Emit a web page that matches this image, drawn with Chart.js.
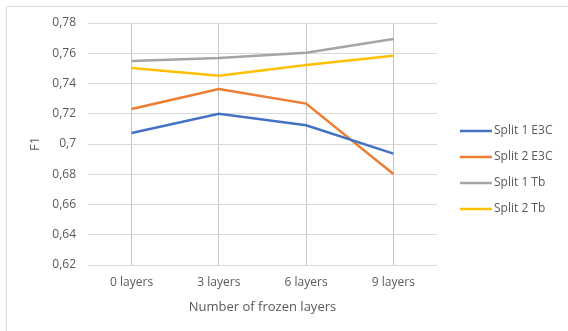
<!DOCTYPE html>
<html>
<head>
<meta charset="utf-8">
<script src="https://cdn.jsdelivr.net/npm/chart.js@4"></script>
<style>
  html, body { margin: 0; padding: 0; background: #ffffff; }
  #wrap { width: 568px; height: 331px; position: relative; }
</style>
</head>
<body>
<div id="wrap"><canvas id="c" width="568" height="331"></canvas></div>
<script>
// Frozen-layer settings on the x axis
const categories = ['0 layers', '3 layers', '6 layers', '9 layers'];

// F1 scores per split / setup
const split1E3C = [0.7073, 0.7200, 0.7124, 0.6936];
const split2E3C = [0.7231, 0.7364, 0.7267, 0.6802];
const split1Tb  = [0.7549, 0.7569, 0.7604, 0.7694];
const split2Tb  = [0.7503, 0.7452, 0.7522, 0.7584];

const seriesNames = ['Split 1 E3C', 'Split 2 E3C', 'Split 1 Tb', 'Split 2 Tb'];
const seriesColors = ['#4472C4', '#ED7D31', '#A5A5A5', '#FFC000'];

// y axis range and tick spacing
const yMin = 0.62, yMax = 0.78, yStep = 0.02;

const FONT = '"Open Sans", "Noto Sans", sans-serif';
const TEXT = '#595959';

function makeSet(i, data) {
  return {
    label: seriesNames[i],
    data: data,
    borderColor: seriesColors[i],
    backgroundColor: seriesColors[i],
    borderWidth: 2.5,
    pointRadius: 0,
    tension: 0,
    fill: false
  };
}

// Frame lines plus a line-sample legend drawn beside the plot
const sideLegend = {
  id: 'sideLegend',
  beforeDraw(chart) {
    const ctx = chart.ctx;
    ctx.save();
    ctx.strokeStyle = '#d9d9d9';
    ctx.lineWidth = 1;
    ctx.beginPath();
    ctx.moveTo(6.5, 331);
    ctx.lineTo(6.5, 6.5);
    ctx.lineTo(568, 6.5);
    ctx.stroke();
    ctx.restore();
  },
  afterDraw(chart) {
    const ctx = chart.ctx;
    const x0 = 460, len = 32, y0 = 131, gap = 26;
    ctx.save();
    ctx.font = '12px ' + FONT;
    ctx.textBaseline = 'middle';
    ctx.textAlign = 'left';
    chart.data.datasets.forEach((ds, i) => {
      const y = y0 + i * gap;
      ctx.strokeStyle = ds.borderColor;
      ctx.lineWidth = 2.5;
      ctx.beginPath();
      ctx.moveTo(x0, y);
      ctx.lineTo(x0 + len, y);
      ctx.stroke();
      ctx.fillStyle = TEXT;
      ctx.fillText(ds.label, x0 + len + 2, y);
    });
    ctx.restore();
  }
};

new Chart(document.getElementById('c'), {
  type: 'line',
  data: {
    labels: categories,
    datasets: [
      makeSet(0, split1E3C),
      makeSet(1, split2E3C),
      makeSet(2, split1Tb),
      makeSet(3, split2Tb)
    ]
  },
  options: {
    responsive: false,
    animation: false,
    devicePixelRatio: 1,
    layout: { padding: { left: 0, top: 23, right: 131, bottom: 0 } },
    plugins: {
      legend: { display: false },
      tooltip: { enabled: false }
    },
    scales: {
      x: {
        offset: true,
        grid: { offset: false, color: '#c4c4c4', lineWidth: 1, drawTicks: false },
        border: { display: false },
        ticks: { color: TEXT, font: { family: FONT, size: 12 }, padding: 10, maxRotation: 0 },
        title: {
          display: true,
          text: 'Number of frozen layers',
          color: TEXT,
          font: { family: FONT, size: 13 },
          padding: { top: 0, bottom: 16 }
        },
        afterFit(scale) { scale.height = 66; }
      },
      y: {
        min: yMin,
        max: yMax,
        grid: { color: '#d9d9d9', lineWidth: 1, drawTicks: false },
        border: { display: false },
        ticks: {
          stepSize: yStep,
          color: TEXT,
          font: { family: FONT, size: 12 },
          padding: 12,
          callback(v) {
            return parseFloat(v.toFixed(2)).toString().replace('.', ',');
          }
        },
        title: {
          display: true,
          text: 'F1',
          color: TEXT,
          font: { family: FONT, size: 13 },
          padding: { top: 27, bottom: 0 }
        },
        afterFit(scale) { scale.width = 88; }
      }
    }
  },
  plugins: [sideLegend]
});
</script>
</body>
</html>
